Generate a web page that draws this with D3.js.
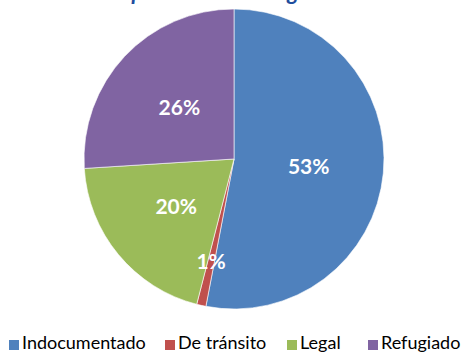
<!DOCTYPE html>
<html>
<head>
<meta charset="utf-8">
<script src="https://cdn.jsdelivr.net/npm/d3@7"></script>
<style>
  html, body { margin: 0; padding: 0; background: #fff; }
  svg { display: block; }
</style>
</head>
<body>
<svg id="chart" width="461" height="353"></svg>
<script>
// Share of people by migratory status (percent)
const categories = ["Indocumentado", "De tránsito", "Legal", "Refugiado"];
const shares = [53, 1, 20, 26];
const colors = ["#4F81BD", "#C0504D", "#9BBB59", "#8064A2"];
const titleText = "Personas por condición migratoria";

const W = 461, H = 353;
const cx = 234, cy = 159, R = 150;
const svg = d3.select("#chart");

// Title (sits at the very top edge)
svg.append("text")
  .attr("x", 202).attr("y", 0)
  .attr("text-anchor", "middle")
  .attr("font-family", "Lato, sans-serif")
  .attr("font-weight", "bold")
  .attr("font-style", "italic")
  .attr("font-size", 22.5)
  .attr("fill", "#1F4E9E")
  .text(titleText);

const data = categories.map((c, i) => ({ name: c, value: shares[i], color: colors[i] }));

const pie = d3.pie().value(d => d.value).sort(null);
const arc = d3.arc().innerRadius(0).outerRadius(R);
const arcs = pie(data);

const g = svg.append("g").attr("transform", `translate(${cx},${cy})`);

g.selectAll("path.slice")
  .data(arcs)
  .join("path")
  .attr("class", "slice")
  .attr("d", arc)
  .attr("fill", d => d.data.color)
  .attr("stroke", "#ffffff")
  .attr("stroke-width", 0.6);

// Percentage labels; the thin slice gets its label pushed outward
const labelArc = d => {
  const f = d.data.value < 5 ? 0.7 : 0.5;
  return d3.arc().innerRadius(R * f).outerRadius(R * f).centroid(d);
};

g.selectAll("text.lbl")
  .data(arcs)
  .join("text")
  .attr("class", "lbl")
  .attr("transform", d => `translate(${labelArc(d)})`)
  .attr("text-anchor", "middle")
  .attr("dy", "0.36em")
  .attr("font-family", "Lato, sans-serif")
  .attr("font-weight", "bold")
  .attr("font-size", 21)
  .attr("fill", "#ffffff")
  .text(d => d3.format("d")(d.data.value) + "%");

// Legend along the bottom (partly clipped by the lower edge)
const legendX = [9, 165, 287, 368];
const legend = svg.append("g").attr("transform", "translate(0,349)");
const items = legend.selectAll("g.item")
  .data(data)
  .join("g")
  .attr("class", "item")
  .attr("transform", (d, i) => `translate(${legendX[i]},0)`);

items.append("rect")
  .attr("x", 0).attr("y", -9)
  .attr("width", 10).attr("height", 10)
  .attr("fill", d => d.color);

items.append("text")
  .attr("x", 13).attr("y", 0)
  .attr("font-family", "Lato, sans-serif")
  .attr("font-size", 18)
  .attr("fill", "#000")
  .text(d => d.name);
</script>
</body>
</html>
